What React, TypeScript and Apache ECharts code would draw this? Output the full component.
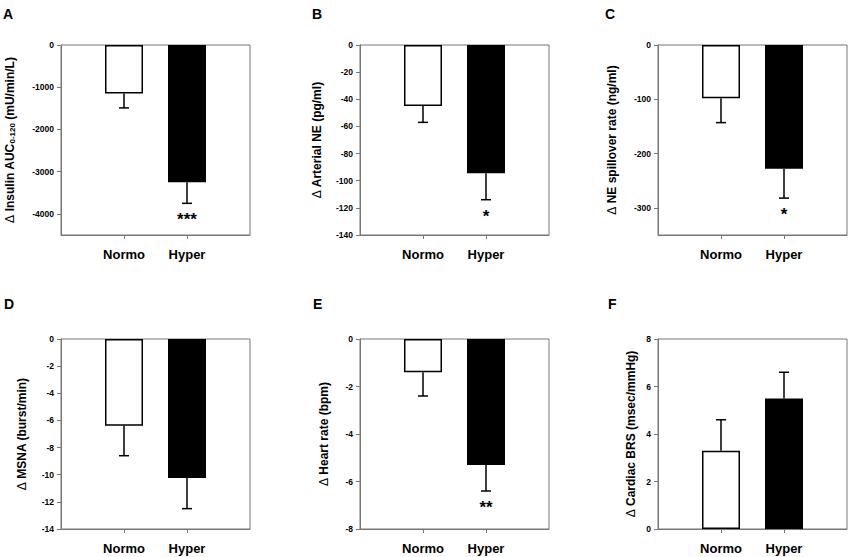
import React, { useEffect, useRef } from "react";
import * as echarts from "echarts";

const categories = ["Normo", "Hyper"];

const panelLetters = ["A", "B", "C", "D", "E", "F"];

const axisTitles = [
  "{d|Δ} Insulin AUC{s|0-120} (mU/min/L)",
  "{d|Δ} Arterial NE (pg/ml)",
  "{d|Δ} NE spillover rate (ng/ml)",
  "{d|Δ} MSNA (burst/min)",
  "{d|Δ} Heart rate (bpm)",
  "{d|Δ} Cardiac BRS (msec/mmHg)",
];

const meansA = [-1150, -3250];
const semA = [340, 500];
const meansB = [-45, -94.5];
const semB = [12, 19.5];
const meansC = [-98, -228];
const semC = [45, 54];
const meansD = [-6.4, -10.25];
const semD = [2.2, 2.25];
const meansE = [-1.4, -5.3];
const semE = [1.0, 1.1];
const meansF = [3.3, 5.5];
const semF = [1.3, 1.1];

const sigA = ["", "***"];
const sigB = ["", "*"];
const sigC = ["", "*"];
const sigD = ["", ""];
const sigE = ["", "**"];
const sigF = ["", ""];

const ticksA = [0, -1000, -2000, -3000, -4000];
const ticksB = [0, -20, -40, -60, -80, -100, -120, -140];
const ticksC = [0, -100, -200, -300];
const ticksD = [0, -2, -4, -6, -8, -10, -12, -14];
const ticksE = [0, -2, -4, -6, -8];
const ticksF = [0, 2, 4, 6, 8];

const rangesA = [-4500, 0];
const rangesB = [-140, 0];
const rangesC = [-350, 0];
const rangesD = [-14, 0];
const rangesE = [-8, 0];
const rangesF = [0, 8];

const panels = [
  { means: meansA, sem: semA, sig: sigA, ticks: ticksA, range: rangesA },
  { means: meansB, sem: semB, sig: sigB, ticks: ticksB, range: rangesB },
  { means: meansC, sem: semC, sig: sigC, ticks: ticksC, range: rangesC },
  { means: meansD, sem: semD, sig: sigD, ticks: ticksD, range: rangesD },
  { means: meansE, sem: semE, sig: sigE, ticks: ticksE, range: rangesE },
  { means: meansF, sem: semF, sig: sigF, ticks: ticksF, range: rangesF },
];

// layout (pixels)
const gridLefts = [61, 360, 658];
const gridWidths = [189, 189, 190];
const gridTops = [45, 339];
const gridHeight = 190;
const nameGaps = [45, 37, 40, 33, 30, 21];
const letterX = [3, 312, 605, 4, 313, 608];
const letterY = [7, 7, 7, 297, 297, 297];

const FONT = "Liberation Sans, Arial, Helvetica, sans-serif";
const AXIS_COLOR = "#777";

export default function App() {
  const ref = useRef<HTMLDivElement>(null);

  useEffect(() => {
    if (!ref.current) return;
    const chart = echarts.init(ref.current, undefined, { renderer: "svg" });

    const grids: any[] = [];
    const xAxes: any[] = [];
    const yAxes: any[] = [];
    const series: any[] = [];

    panels.forEach((p, i) => {
      const col = i % 3;
      const row = Math.floor(i / 3);
      grids.push({
        left: gridLefts[col],
        top: gridTops[row],
        width: gridWidths[col],
        height: gridHeight,
        show: true,
        borderColor: AXIS_COLOR,
        borderWidth: 1,
        backgroundColor: "#fff",
      });
      xAxes.push({
        type: "category",
        gridIndex: i,
        data: ["", ...categories, ""],
        boundaryGap: false,
        axisLine: { onZero: false, lineStyle: { color: AXIS_COLOR, width: 1 } },
        axisTick: {
          length: 4,
          interval: (idx: number) => idx === 1 || idx === 2,
          lineStyle: { color: AXIS_COLOR },
        },
        axisLabel: {
          interval: 0,
          margin: 13,
          fontFamily: FONT,
          fontWeight: "bold",
          fontSize: 13,
          color: "#000",
        },
        splitLine: { show: false },
      });
      yAxes.push({
        type: "value",
        gridIndex: i,
        min: p.range[0],
        max: p.range[1],
        axisLine: { show: true, onZero: false, lineStyle: { color: AXIS_COLOR, width: 1 } },
        axisTick: {
          show: true,
          length: 4,
          customValues: p.ticks,
          lineStyle: { color: AXIS_COLOR },
        },
        axisLabel: {
          customValues: p.ticks,
          formatter: (v: number) => String(v),
          margin: 7,
          fontFamily: FONT,
          fontWeight: "bold",
          fontSize: 8.5,
          color: "#000",
        },
        splitLine: { show: false },
        name: axisTitles[i],
        nameLocation: "middle",
        nameRotate: 90,
        nameGap: nameGaps[i],
        nameTextStyle: {
          fontFamily: FONT,
          fontWeight: "bold",
          fontSize: 12,
          color: "#000",
          rich: {
            d: { fontFamily: FONT, fontWeight: "normal", fontSize: 12, color: "#000" },
            s: {
              fontFamily: FONT,
              fontWeight: "bold",
              fontSize: 8,
              color: "#000",
              padding: [5, 0, 0, 0],
            },
          },
        },
      });

      series.push({
        type: "bar",
        xAxisIndex: i,
        yAxisIndex: i,
        barWidth: 38,
        data: [
          "-",
          {
            value: p.means[0],
            itemStyle: { color: "#fff", borderColor: "#000", borderWidth: 1.5 },
          },
          {
            value: p.means[1],
            itemStyle: { color: "#000", borderColor: "#000", borderWidth: 1.5 },
          },
          "-",
        ],
        silent: true,
      });

      const errData = p.means.map((m, k) => [k + 1, m, p.sem[k]]);
      series.push({
        type: "custom",
        xAxisIndex: i,
        yAxisIndex: i,
        z: 5,
        silent: true,
        data: errData,
        encode: { x: 0, y: 1 },
        renderItem: (params: any, api: any) => {
          const x = api.value(0);
          const m = api.value(1);
          const s = api.value(2);
          const end = m >= 0 ? m + s : m - s;
          const p1 = api.coord([x, m]);
          const p2 = api.coord([x, end]);
          const cap = 5;
          const stroke = { stroke: "#000", lineWidth: 1.5 };
          const children: any[] = [
            { type: "line", shape: { x1: p1[0], y1: p1[1], x2: p2[0], y2: p2[1] }, style: stroke },
            {
              type: "line",
              shape: { x1: p2[0] - cap, y1: p2[1], x2: p2[0] + cap, y2: p2[1] },
              style: stroke,
            },
          ];
          const sig = p.sig[params.dataIndex];
          if (sig) {
            children.push({
              type: "text",
              x: p2[0],
              y: p2[1] + 8,
              style: {
                text: sig,
                fontFamily: FONT,
                fontWeight: "bold",
                fontSize: 17,
                fill: "#000",
                align: "center",
                verticalAlign: "top",
              },
            });
          }
          return { type: "group", children };
        },
      });
    });

    const graphic = panelLetters.map((t, i) => ({
      type: "text",
      left: letterX[i],
      top: letterY[i],
      style: {
        text: t,
        fontFamily: FONT,
        fontWeight: "bold",
        fontSize: 14,
        fill: "#000",
      },
    }));

    chart.setOption({
      animation: false,
      backgroundColor: "#fff",
      grid: grids,
      xAxis: xAxes,
      yAxis: yAxes,
      series,
      graphic,
    });

    return () => chart.dispose();
  }, []);

  return (
    <div
      ref={ref}
      style={{ position: "absolute", left: 0, top: 0, width: 850, height: 557 }}
    />
  );
}
